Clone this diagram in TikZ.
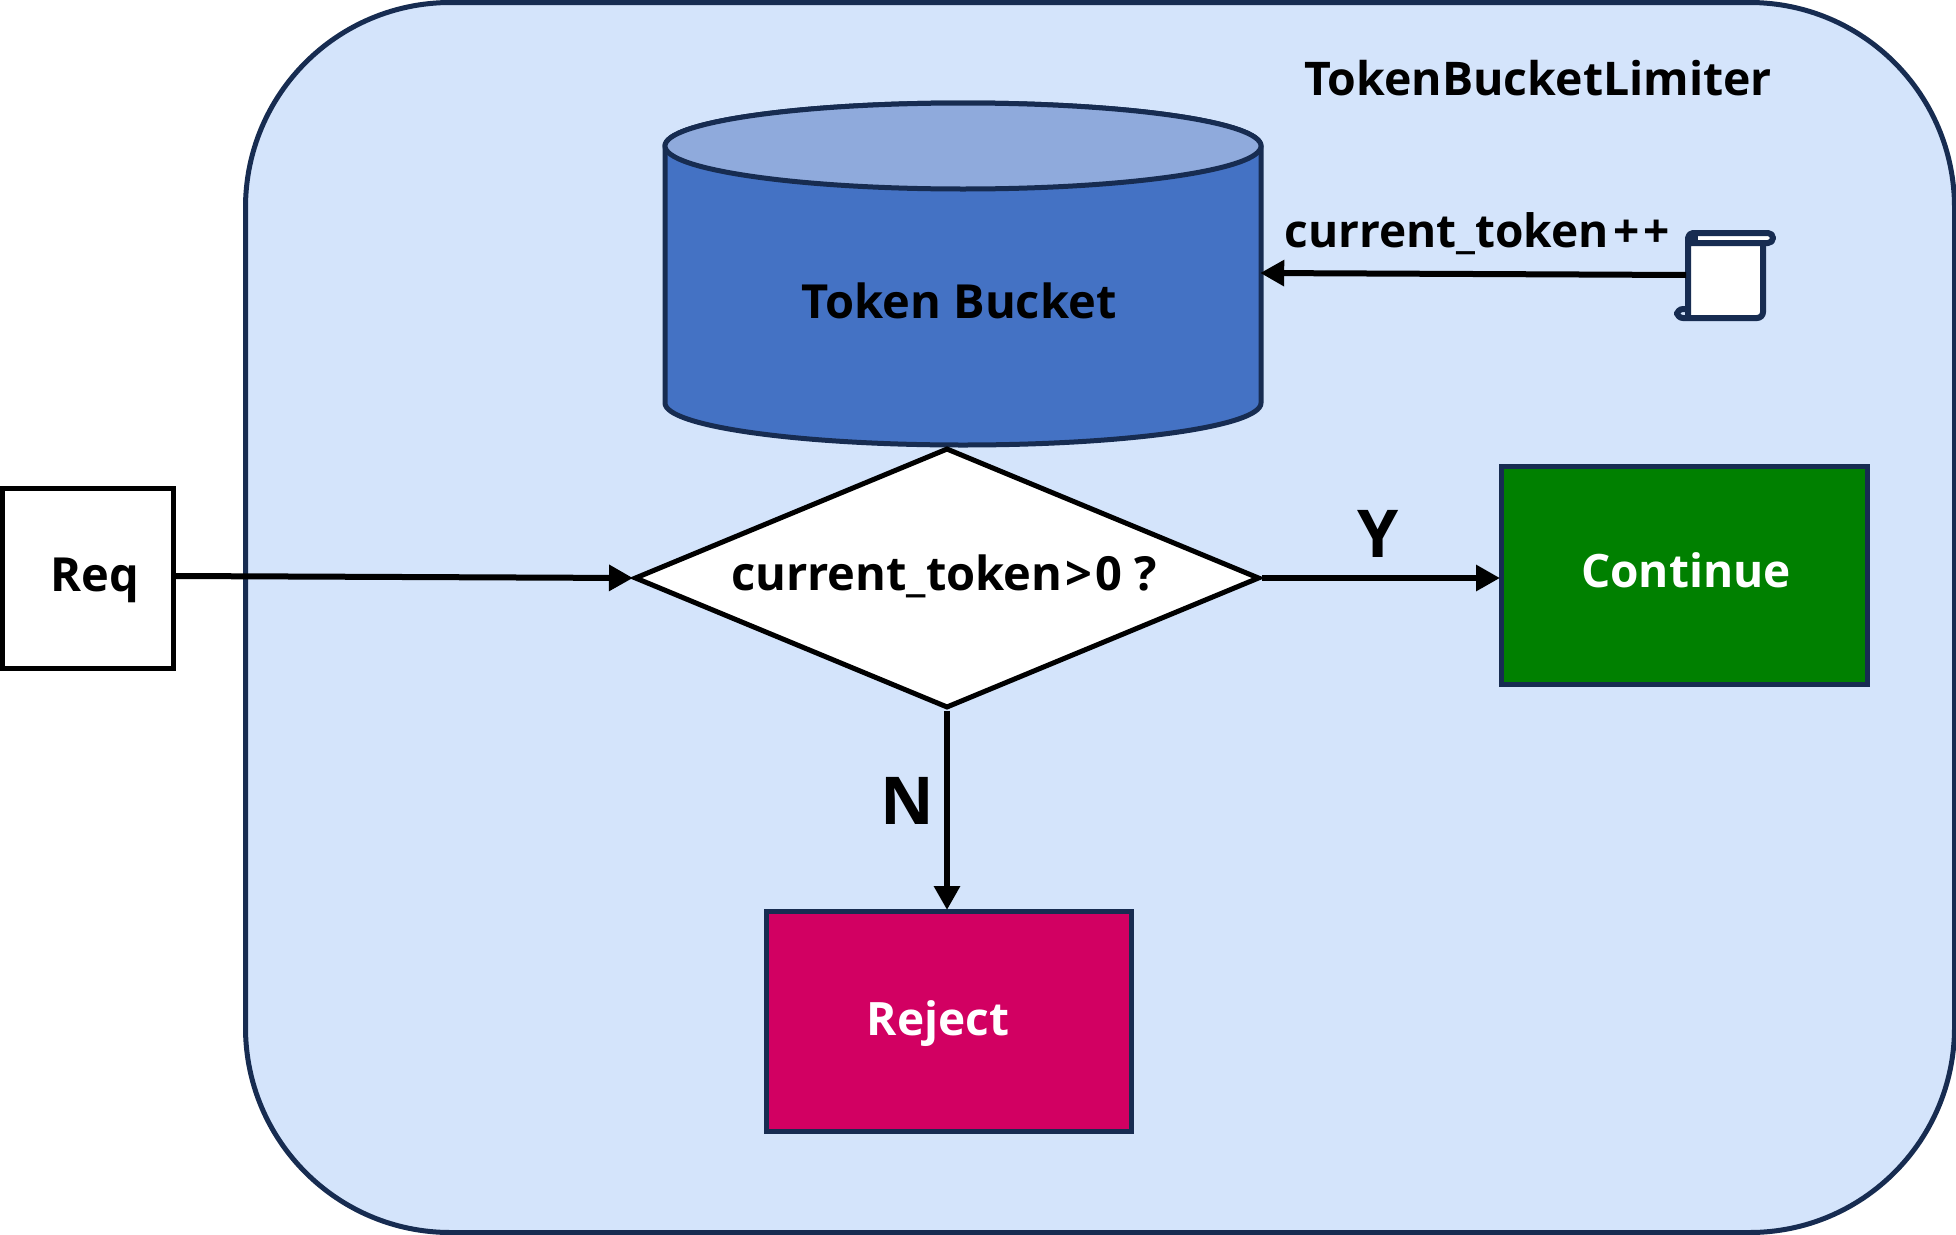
\documentclass[tikz,border=0pt]{standalone}
\usepackage{fontspec}
\setmainfont{Open Sans}
\usetikzlibrary{shapes.geometric,arrows.meta}
\definecolor{navy}{HTML}{172C51}
\definecolor{panel}{HTML}{D4E4FB}
\definecolor{bucketbody}{HTML}{4472C4}
\definecolor{buckettop}{HTML}{8FAADC}
\definecolor{okgreen}{HTML}{008000}
\definecolor{rejectred}{HTML}{D20062}
\tikzset{
  lbl/.style={font=\fontsize{#1}{#1}\selectfont\bfseries,inner sep=0pt},
  boxn/.style={draw=navy,line width=5pt,inner sep=0pt,text=white,anchor=north west},
  flow/.style={draw=black,line width=6pt,-{Triangle[length=24pt,width=25pt]},shorten >=-1pt}
}
\begin{document}
\begin{tikzpicture}[x=1pt,y=-1pt]
\useasboundingbox (0,0) rectangle (1956,1234);
\node[draw=navy,fill=panel,line width=5pt,rounded corners=205pt,minimum width=1709pt,minimum height=1230pt,anchor=north west,inner sep=0pt] (panel) at (243,0) {};
\node[lbl=46.4pt] (title) at (1538,78) {TokenBucketLimiter};
% bucket
\node[minimum width=596pt,minimum height=300pt,inner sep=0pt] (bucket) at (963,274) {};
\draw[navy,line width=5pt,fill=bucketbody,line join=round] (665,146) -- (665,403) arc[start angle=180,end angle=360,x radius=298pt,y radius=42pt] -- (1261,146) arc[start angle=0,end angle=180,x radius=298pt,y radius=43pt] -- cycle;
\draw[navy,line width=5pt,fill=buckettop] (963,146) ellipse[x radius=298pt,y radius=43pt];
\node[lbl=47pt] (bucketlabel) at (959,301) {Token Bucket};
\node[draw=black,fill=white,line width=5pt,minimum width=171pt,minimum height=180pt,anchor=north west,inner sep=0pt] (req) at (0,485.5) {};
\node[lbl=47pt] (reqlabel) at (95,580) {Req};
\node[diamond,draw=black,fill=white,line width=5pt,aspect=2.4,minimum width=625pt,minimum height=260pt,inner sep=0pt] (check) at (947,578) {};
\node[lbl=47pt] (checklabel) at (944,576) {current\_token\kern3pt>\kern3pt0 ?};
\node[boxn,fill=okgreen,minimum width=366pt,minimum height=218pt] (continue) at (1499,464) {};
\node[lbl=46pt,text=white] (continuelabel) at (1686,570) {Continue};
\node[boxn,fill=rejectred,minimum width=365pt,minimum height=220pt] (reject) at (764,909) {};
\node[lbl=46pt,text=white] (rejectlabel) at (938,1024) {Reject};
\node[lbl=66pt] (ylabel) at (1378,534) {Y};
\node[lbl=66pt] (nlabel) at (907,801) {N};
\node[lbl=46pt] (inclabel) at (1477,234) {current\_token\kern5pt+\kern3pt+};
% scroll icon
\node[fill=white,minimum width=77pt,minimum height=85pt,anchor=north west,inner sep=0pt] (scroll) at (1686,233) {};
\fill[white] (1686,233) rectangle (1771,243);
\draw[navy,line width=6pt,line join=round,rounded corners=5pt] (1688,318) -- (1688,233) -- (1773,233) -- (1773,243) -- (1688,243);
\draw[navy,line width=6pt,rounded corners=6pt] (1763,243) -- (1763,318) -- (1677,318) -- (1677,309) -- (1688,309);
\fill[navy] (1688,233) rectangle (1698,243);
\coordinate (bucketin) at (bucket.east |- 0,273);
\coordinate (scrollout) at (1686,275);
\coordinate (reqout) at (req.east |- 0,576);
\draw[flow] (scrollout) -- (bucketin);
\draw[flow] (reqout) -- (check.west);
\draw[flow] (check.east) -- (continue.west |- check.east);
\draw[flow] (check.south) -- (reject.north -| check.south);
\end{tikzpicture}
\end{document}
